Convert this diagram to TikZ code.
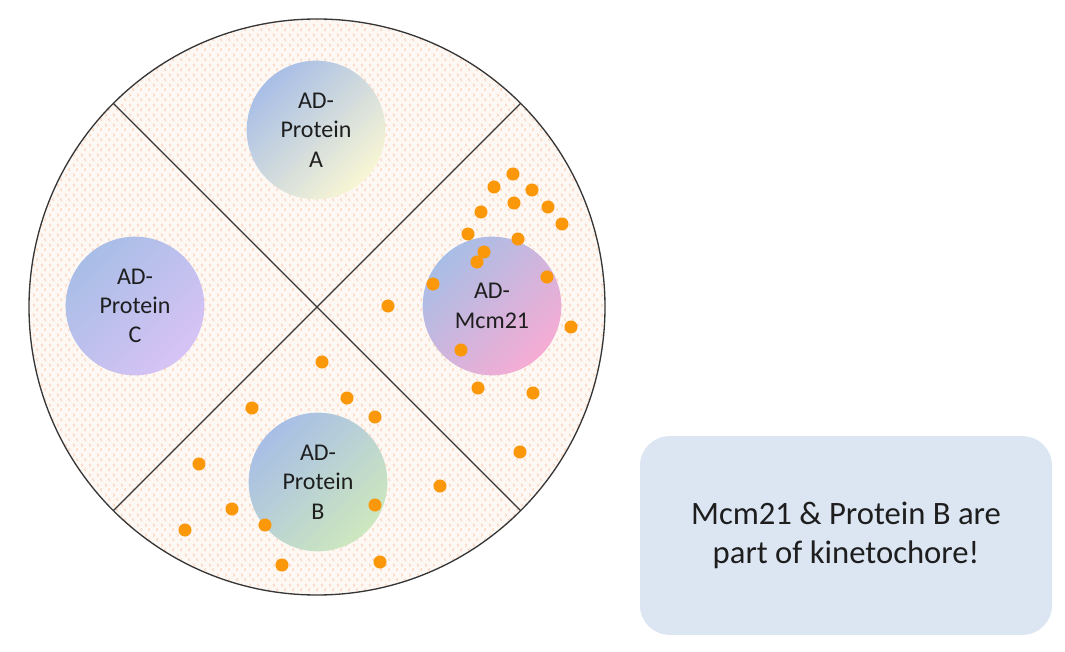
\documentclass[tikz,border=0pt]{standalone}
\usepackage{fontspec}
\setmainfont{Carlito}
\usetikzlibrary{patterns.meta}
\definecolor{ringline}{RGB}{55,55,55}
\definecolor{dotor}{RGB}{250,152,10}
\definecolor{chevc}{RGB}{250,190,155}
\definecolor{platebg}{RGB}{254,248,244}
\definecolor{boxfill}{RGB}{220,230,243}
\definecolor{txt}{RGB}{30,30,30}
\definecolor{bluegr}{RGB}{168,190,230}
\definecolor{pA}{RGB}{248,246,212}
\definecolor{pAm}{RGB}{208,220,222}
\definecolor{pC}{RGB}{215,195,245}
\definecolor{pCm}{RGB}{192,196,238}
\definecolor{pM}{RGB}{246,172,212}
\definecolor{pMm}{RGB}{210,165,220}
\definecolor{pB}{RGB}{205,232,190}
\definecolor{pBm}{RGB}{188,210,218}
\tikzdeclarepattern{
  name=chev, type=uncolored,
  bottom left={(0pt,0pt)}, top right={(6pt,7.5pt)},
  tile size={(6pt,7.5pt)},
  code={
    \draw[line width=0.35pt] (0.9pt,4.5pt) -- (2.3pt,5.6pt) -- (0.9pt,6.7pt);
    \draw[line width=0.35pt] (5.1pt,0.8pt) -- (3.7pt,1.9pt) -- (5.1pt,3.0pt);
  }
}
\tikzset{
  prot/.style={circle, minimum size=104pt, inner sep=0pt, align=center,
    font=\fontsize{18}{22}\selectfont, text=txt},
  tilt/.style={shading angle=45},
  dot/.style={fill=dotor},
  divider/.style={draw=ringline, line width=1pt},
  note/.style={rounded corners=22pt, fill=boxfill, minimum width=309pt,
    minimum height=149pt, align=center, text=txt,
    font=\fontsize{24.5}{29.5}\selectfont}
}
\begin{document}
\begin{tikzpicture}[x=0.75pt,y=-0.75pt]
\useasboundingbox (0,0) rectangle (1065,652);
\coordinate (c) at (317,307);
% plate
\fill[platebg] (c) circle[radius=216pt];
\fill[pattern=chev, pattern color=chevc] (c) circle[radius=216pt];
% dividers
\coordinate (ul) at (113.4,103.4);
\coordinate (ur) at (520.6,103.4);
\coordinate (ll) at (113.4,510.6);
\coordinate (lr) at (520.6,510.6);
\draw[divider] (ul) -- (lr);
\draw[divider] (ur) -- (ll);
% colonies
\node[prot, top color=bluegr, middle color=pAm, bottom color=pA, tilt] (pa) at (316,130) {AD-\\Protein\\A};
\node[prot, top color=bluegr, middle color=pCm, bottom color=pC, tilt] (pc) at (135,306) {AD-\\Protein\\C};
\node[prot, top color=bluegr, middle color=pMm, bottom color=pM, tilt] (pm) at (492,306) {AD-\\Mcm21};
\node[prot, top color=bluegr, middle color=pBm, bottom color=pB, tilt] (pb) at (318,482) {AD-\\Protein\\B};
% dots
\foreach \p in {(513,174),(494,187),(532,190),(514,203),(481,212),(548,207),(562,224),
  (468,234),(518,239),(484,252),(477,262),(433,284),(547,277),(388,306),(571,327),
  (461,350),(478,388),(533,393),(520,452),
  (322,362),(347,398),(252,408),(375,417),(199,464),(440,486),(375,505),(232,509),
  (265,525),(185,530),(282,565),(380,562)}
  \fill[dot] \p circle[radius=4.9pt];
% outline
\draw[draw=ringline, line width=1pt] (c) circle[radius=216pt];
% note
\node[note] (nt) at (846,535.5) {Mcm21 \& Protein B are\\part of kinetochore!};
\end{tikzpicture}
\end{document}
